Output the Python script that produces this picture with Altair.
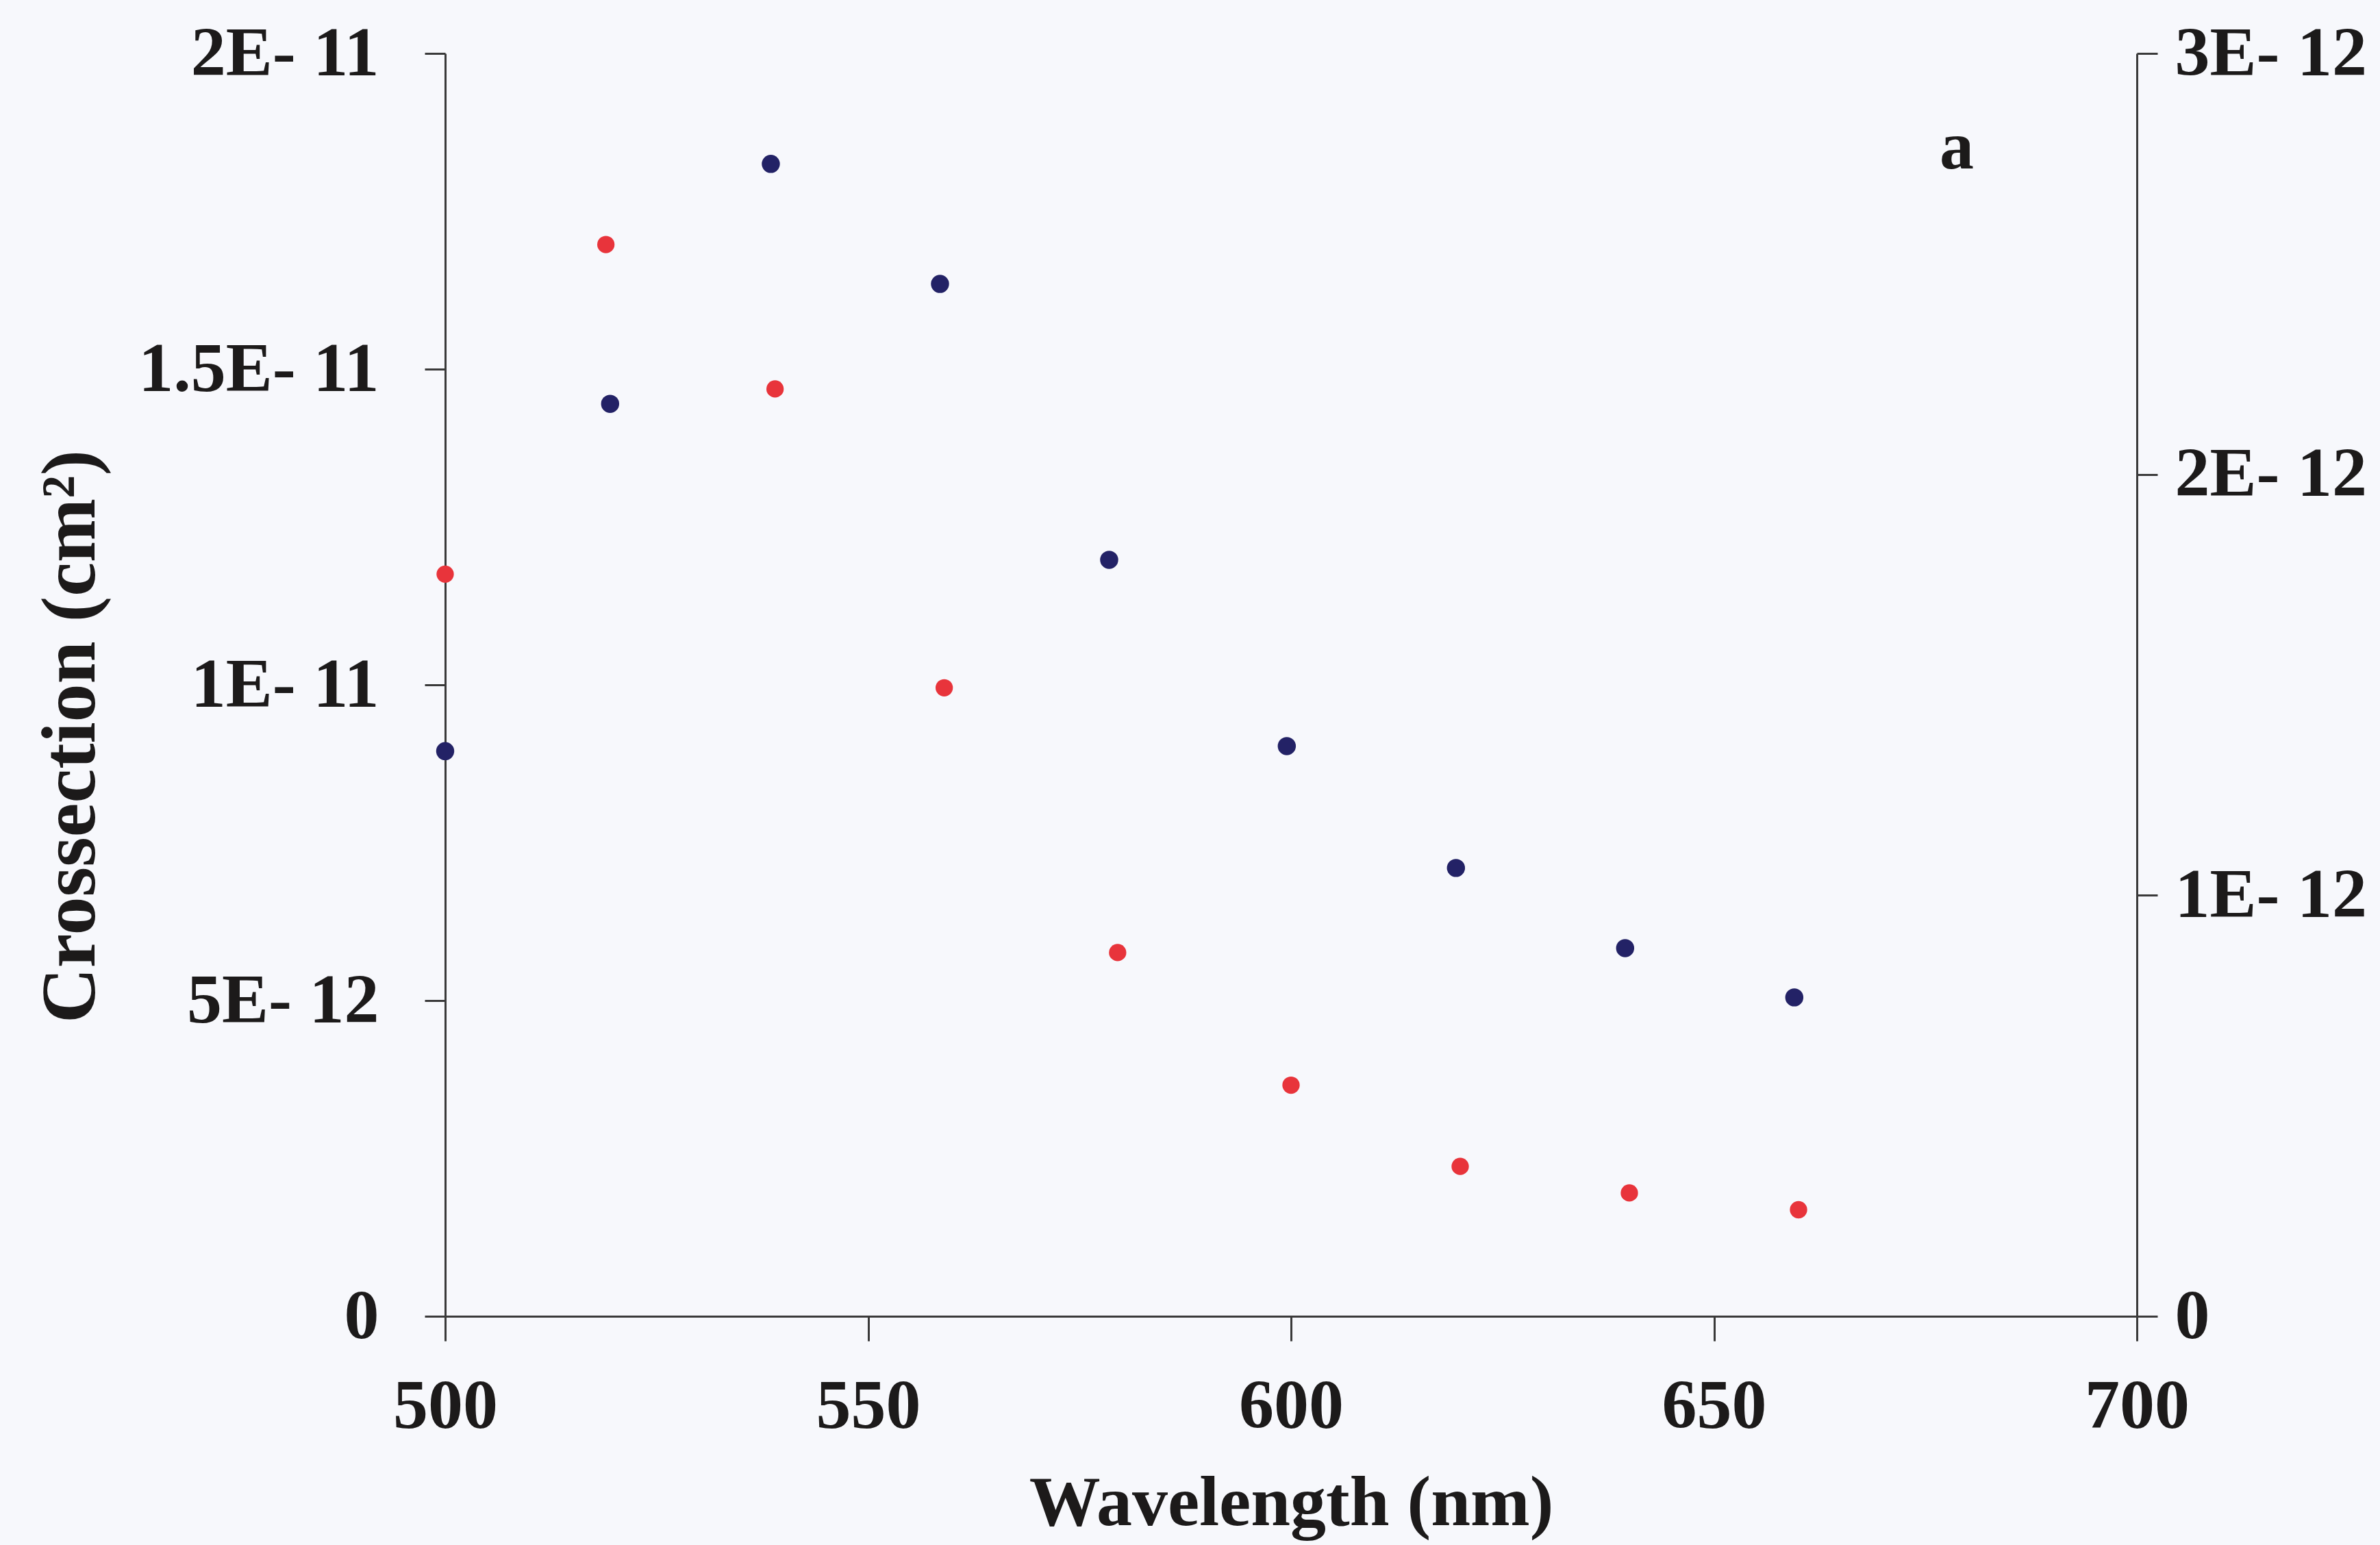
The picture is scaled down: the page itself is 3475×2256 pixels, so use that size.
import altair as alt
import pandas as pd

# ---- data ----
blue_wavelength = [500, 519.5, 538.5, 558.5, 578.5, 599.5, 619.5, 639.5, 659.5]
blue_cs = [8.95e-12, 1.445e-11, 1.825e-11, 1.635e-11, 1.198e-11, 9.03e-12, 7.10e-12, 5.83e-12, 5.05e-12]
red_wavelength = [500, 519, 539, 559, 579.5, 600, 620, 640, 660]
red_cs = [1.763e-12, 2.546e-12, 2.203e-12, 1.493e-12, 0.864e-12, 0.549e-12, 0.356e-12, 0.293e-12, 0.253e-12]

x_ticks = [500, 550, 600, 650, 700]
left_ticks = [0, 5e-12, 1e-11, 1.5e-11, 2e-11]
left_labels = ["0", "5E- 12", "1E- 11", "1.5E- 11", "2E- 11"]
right_ticks = [0, 1e-12, 2e-12, 3e-12]
right_labels = ["0", "1E- 12", "2E- 12", "3E- 12"]

panel_label = ["a"]
panel_label_x = [678.7]
panel_label_y = [1.85e-11]

blue_df = pd.DataFrame({"wavelength": blue_wavelength, "cs": blue_cs})
red_df = pd.DataFrame({"wavelength": red_wavelength, "cs": red_cs})
label_df = pd.DataFrame({"wavelength": panel_label_x, "cs": panel_label_y, "t": panel_label})

FONT = "Liberation Serif"
INK = "#1c1a1a"
AXC = "#3a3a3a"
H = 1844

left_expr = "[" + ",".join("'%s'" % s for s in left_labels) + "][round(datum.value/5e-12)]"
right_expr = "[" + ",".join("'%s'" % s for s in right_labels) + "][round(datum.value/1e-12)]"

x_enc = alt.X(
    "wavelength:Q",
    scale=alt.Scale(domain=[500, 700], nice=False, zero=False),
    axis=alt.Axis(
        values=x_ticks,
        title="Wavelength (nm)",
        tickSize=36,
        labelPadding=45,
        titlePadding=40,
        labelFlush=False,
    ),
)

blue = alt.Chart(blue_df).mark_circle(size=700, opacity=1, color="#232266").encode(
    x=x_enc,
    y=alt.Y(
        "cs:Q",
        scale=alt.Scale(domain=[0, 2e-11], nice=False, zero=True),
        axis=alt.Axis(
            orient="left",
            values=left_ticks,
            labelExpr=left_expr,
            title="Crossection (cm²)",
            tickSize=30,
            labelPadding=67,
            titleX=-513,
            titleY=H / 2 + 75,
            titleAngle=270,
            titleAlign="center",
            titleBaseline="alphabetic",
            titleFontSize=112,
        ),
    ),
)

txt = alt.Chart(label_df).mark_text(
    font=FONT, fontSize=100, fontWeight="bold", color=INK
).encode(
    x=alt.X("wavelength:Q", scale=alt.Scale(domain=[500, 700], nice=False, zero=False)),
    y=alt.Y("cs:Q", scale=alt.Scale(domain=[0, 2e-11], nice=False, zero=True)),
    text="t:N",
)

red = alt.Chart(red_df).mark_circle(size=640, opacity=1, color="#e8343b").encode(
    x=x_enc,
    y=alt.Y(
        "cs:Q",
        scale=alt.Scale(domain=[0, 3e-12], nice=False, zero=True),
        axis=alt.Axis(
            orient="right",
            values=right_ticks,
            labelExpr=right_expr,
            title="",
            tickSize=30,
            labelPadding=25,
        ),
    ),
)

left_layer = alt.layer(blue, txt)

chart = (
    alt.layer(left_layer, red)
    .resolve_scale(y="independent")
    .properties(
        width=2470,
        height=H,
        background="#f7f8fc",
        padding={"left": 650, "top": 78, "right": 355, "bottom": 334},
        autosize=alt.AutoSizeParams(type="none"),
    )
    .configure_view(stroke=None)
    .configure_axis(
        grid=False,
        domainColor=AXC,
        domainWidth=3,
        tickColor=AXC,
        tickWidth=3,
        labelFont=FONT,
        labelFontSize=102,
        labelFontWeight="bold",
        labelColor=INK,
        labelLimit=0,
        titleFont=FONT,
        titleFontSize=104,
        titleFontWeight="bold",
        titleColor=INK,
    )
)

chart.save("out.html", embed_options={"renderer": "svg", "actions": False})
